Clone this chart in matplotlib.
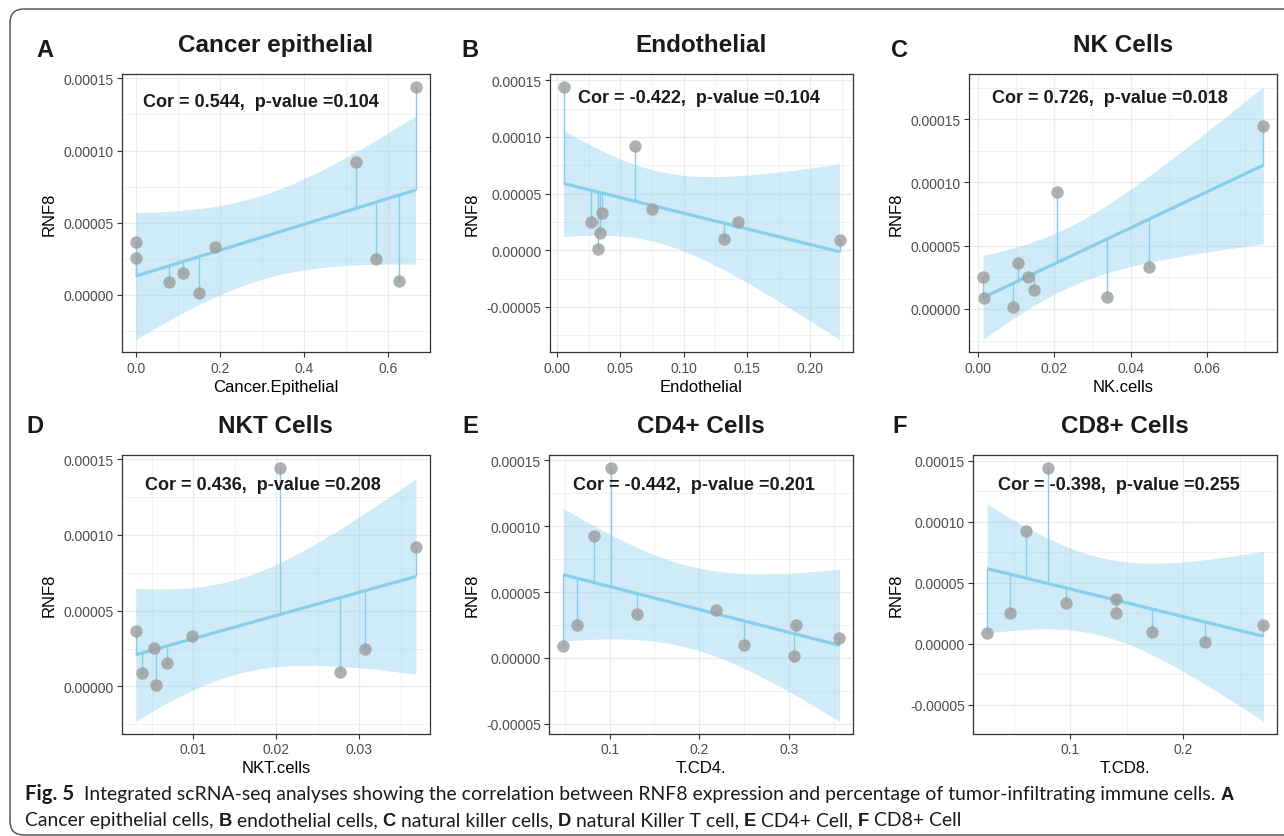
import numpy as np
import matplotlib
matplotlib.use("Agg")
import matplotlib.pyplot as plt
from matplotlib.ticker import MultipleLocator, FormatStrFormatter
from matplotlib.patches import FancyBboxPatch
from matplotlib.transforms import IdentityTransform

W, H, DPI = 1284, 837, 100

# ---------------- data ----------------
rnf8 = [1.443e-4, 9.22e-5, 3.63e-5, 3.30e-5, 2.53e-5, 2.50e-5, 1.52e-5, 0.96e-5, 0.90e-5, 0.12e-5]

x_cancer_epithelial = [0.665, 0.524, 0.000, 0.188, 0.000, 0.572, 0.112, 0.625, 0.080, 0.150]
x_endothelial = [0.0052, 0.0619, 0.075, 0.0354, 0.0267, 0.1426, 0.0343, 0.132, 0.223, 0.0327]
x_nk_cells = [0.0748, 0.0208, 0.0106, 0.0448, 0.0013, 0.0131, 0.0148, 0.0339, 0.0015, 0.0092]
x_nkt_cells = [0.02048, 0.03684, 0.00308, 0.00988, 0.00524, 0.03072, 0.00684, 0.02764, 0.00384, 0.00548]
x_t_cd4 = [0.1015, 0.0822, 0.219, 0.131, 0.064, 0.3078, 0.3565, 0.2498, 0.048, 0.3062]
x_t_cd8 = [0.080, 0.0609, 0.1409, 0.0962, 0.0468, 0.1409, 0.2709, 0.1724, 0.0265, 0.2194]

panel_letters = ["A", "B", "C", "D", "E", "F"]
panel_titles = ["Cancer epithelial", "Endothelial", "NK Cells", "NKT Cells", "CD4+ Cells", "CD8+ Cells"]
x_labels = ["Cancer.Epithelial", "Endothelial", "NK.cells", "NKT.cells", "T.CD4.", "T.CD8."]
y_label = "RNF8"
cor_values = ["0.544", "-0.422", "0.726", "0.436", "-0.442", "-0.398"]
p_values = ["0.104", "0.104", "0.018", "0.208", "0.201", "0.255"]

caption_line1 = [("Fig. 5", "fig"), ("Integrated scRNA-seq analyses showing the correlation between RNF8 expression and percentage of tumor-infiltrating immune cells.", "reg"), ("A", "b")]
caption_line2 = [("Cancer epithelial cells,", "reg"), ("B", "b"), ("endothelial cells,", "reg"), ("C", "b"),
                 ("natural killer cells,", "reg"), ("D", "b"), ("natural Killer T cell,", "reg"), ("E", "b"),
                 ("CD4+ Cell,", "reg"), ("F", "b"), ("CD8+ Cell", "reg")]

x_series = [x_cancer_epithelial, x_endothelial, x_nk_cells, x_nkt_cells, x_t_cd4, x_t_cd8]

# ---------------- style / layout ----------------
x_major = [0.2, 0.05, 0.02, 0.01, 0.1, 0.1]
x_fmt = ["%.1f", "%.2f", "%.2f", "%.2f", "%.1f", "%.1f"]
# axes boxes in pixels: left, top, right, bottom
boxes = [(121.7, 75, 429.5, 353.3), (549.7, 75, 853.3, 353.3), (969, 75, 1277.3, 353.3),
         (121.7, 456, 430, 735), (549.3, 456, 853.3, 735), (973.3, 456, 1277.3, 735)]
text_pos = [(0.452, 0.90), (0.49, 0.914), (0.456, 0.914), (0.457, 0.896), (0.477, 0.896), (0.48, 0.896)]
letter_pos = [(45, 57), (470, 57), (900, 57), (35, 433), (470, 433), (900, 433)]

SANS = ["Liberation Sans", "DejaVu Sans"]
plt.rcParams["font.family"] = SANS
SKY = "#87CEEB"
T975 = 2.306  # t quantile, df = 8

fig = plt.figure(figsize=(W / DPI, H / DPI), dpi=DPI)
fig.patch.set_facecolor("white")

for i in range(6):
    x = np.asarray(x_series[i], dtype=float)
    y = np.asarray(rnf8, dtype=float)
    n = len(x)
    b, a = np.polyfit(x, y, 1)
    fitted = a + b * x
    s = np.sqrt(np.sum((y - fitted) ** 2) / (n - 2))
    xbar = x.mean()
    sxx = np.sum((x - xbar) ** 2)
    xs = np.linspace(x.min(), x.max(), 80)
    yh = a + b * xs
    se = s * np.sqrt(1.0 / n + (xs - xbar) ** 2 / sxx)
    lo, hi = yh - T975 * se, yh + T975 * se

    l, t, r, btm = boxes[i]
    ax = fig.add_axes([l / W, 1 - btm / H, (r - l) / W, (btm - t) / H])

    xr = x.max() - x.min()
    ax.set_xlim(x.min() - 0.05 * xr, x.max() + 0.05 * xr)
    ymin = min(lo.min(), y.min())
    ymax = max(hi.max(), y.max())
    yr = ymax - ymin
    ax.set_ylim(ymin - 0.05 * yr, ymax + 0.05 * yr)

    ax.fill_between(xs, lo, hi, color=SKY, alpha=0.4, linewidth=0, zorder=2)
    ax.vlines(x, y, fitted, color=SKY, linewidth=1.0, zorder=3)
    ax.plot(xs, yh, color=SKY, linewidth=2.3, zorder=4, solid_capstyle="butt")
    ax.scatter(x, y, s=80, color="#9C9C9C", alpha=0.8, linewidths=0, zorder=5)

    ax.xaxis.set_major_locator(MultipleLocator(x_major[i]))
    ax.xaxis.set_minor_locator(MultipleLocator(x_major[i] / 2))
    ax.xaxis.set_major_formatter(FormatStrFormatter(x_fmt[i]))
    ax.yaxis.set_major_locator(MultipleLocator(5e-5))
    ax.yaxis.set_minor_locator(MultipleLocator(2.5e-5))
    ax.yaxis.set_major_formatter(FormatStrFormatter("%.5f"))

    ax.set_axisbelow(True)
    ax.grid(True, which="major", color="#EBEBEB", linewidth=0.9)
    ax.grid(True, which="minor", color="#EBEBEB", linewidth=0.5)
    for sp in ax.spines.values():
        sp.set_color("#333333")
        sp.set_linewidth(0.9)
    ax.tick_params(which="major", length=3.5, width=0.8, color="#333333", labelsize=10,
                   labelcolor="#4D4D4D", pad=2.5)
    ax.tick_params(which="minor", length=0)

    ax.set_xlabel(x_labels[i], fontsize=12, color="black", labelpad=3)
    ax.set_ylabel(y_label, fontsize=12, color="black", labelpad=5)
    ax.set_title(panel_titles[i], fontsize=17.5, fontweight="bold", color="#1A1A1A", pad=16.5)
    ax.text(text_pos[i][0], text_pos[i][1], f"Cor = {cor_values[i]},  p-value ={p_values[i]}",
            transform=ax.transAxes, ha="center", va="center", fontsize=13, fontweight="bold",
            color="#1A1A1A", zorder=6)

    lx, ly = letter_pos[i]
    fig.text(lx / W, 1 - ly / H, panel_letters[i], ha="center", va="baseline", fontsize=17,
             fontweight="bold", color="#1A1A1A")

# frame around figure
frame = FancyBboxPatch((10, 1), 1400, 826, boxstyle="round,pad=0,rounding_size=14",
                       transform=IdentityTransform(), facecolor="none", edgecolor="#5A5A5A",
                       linewidth=1.1)
fig.add_artist(frame)

# caption
CAP = ["Lato", "DejaVu Sans"]
fig.canvas.draw()
rend = fig.canvas.get_renderer()


def styles_for(size):
    return {
        "fig": dict(family=CAP, fontweight="bold", fontsize=size * 1.05),
        "reg": dict(family=CAP, fontweight="normal", fontsize=size),
        "b": dict(family=SANS, fontweight="bold", fontsize=size * 0.95),
    }


def width_of(txt, **kw):
    t = fig.text(0, 0, txt, **kw)
    w = t.get_window_extent(renderer=rend).width
    t.remove()
    return w


def line_width(runs, size):
    st = styles_for(size)
    space = width_of("x x", **st["reg"]) - width_of("xx", **st["reg"])
    total = 0.0
    for k, (txt, s) in enumerate(runs):
        total += width_of(txt, **st[s])
        if k < len(runs) - 1:
            total += space * (2 if s == "fig" else 1)
    return total


def draw_line(x0, ybase, runs, size):
    st = styles_for(size)
    space = width_of("x x", **st["reg"]) - width_of("xx", **st["reg"])
    x = x0
    for txt, s in runs:
        t = fig.text(x / W, 1 - ybase / H, txt, ha="left", va="baseline", color="#1A1A1A", **st[s])
        x += t.get_window_extent(renderer=rend).width
        x += space * (2 if s == "fig" else 1)


base = 13.0
target = 1233 - 25
cap_size = base * target / line_width(caption_line1, base)
draw_line(25, 800, caption_line1, cap_size)
draw_line(25, 826, caption_line2, cap_size)

fig.savefig("out.png", dpi=DPI, facecolor="white")
